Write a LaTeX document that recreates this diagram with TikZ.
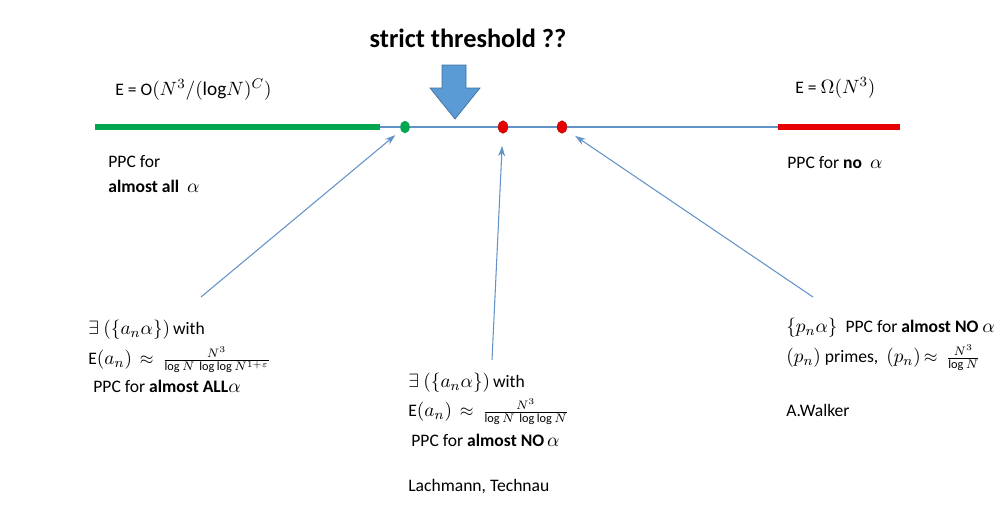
\documentclass[tikz,border=0pt]{standalone}
\usepackage{fontspec}
\setmainfont{Carlito}
\usepackage{tikz}
\usetikzlibrary{positioning, arrows.meta, shapes.geometric}

\definecolor{lineblue}{RGB}{98,146,199}
\definecolor{arrowblue}{RGB}{91,155,213}
\definecolor{arrowedge}{RGB}{65,113,156}
\definecolor{lgreen}{RGB}{0,166,80}
\definecolor{lred}{RGB}{230,0,0}

% slightly larger math, as in the slide
\newcommand{\mm}[1]{{\fontsize{11}{13}\selectfont$#1$}}

\begin{document}
\begin{tikzpicture}[x=0.02cm, y=-0.02cm]

			% Styles
			\tikzset{
				txt/.style={anchor=west, inner sep=0pt, font=\fontsize{10}{12}\selectfont},
				title/.style={inner sep=0pt, font=\fontsize{15}{17}\selectfont\bfseries},
				dot/.style={ellipse, minimum width=0.19cm, minimum height=0.25cm, inner sep=0pt},
				pointer/.style={draw=lineblue, line width=0.6pt, -{Stealth[length=6pt, width=4pt]}}
			}

			\useasboundingbox (0,0) rectangle (999,522);

			% Axis
			\draw[lineblue, line width=1.6pt] (380,127) -- (778,127);
			\draw[lgreen, line width=3pt] (95,127) -- (380,127);
			\draw[lred, line width=3pt] (778,127) -- (900,127);

			% Points on the axis
			\node (gdot) [dot, fill=lgreen] at (405,127) {};
			\node (rdot1) [dot, fill=lred, draw=lred!80!black, line width=0.3pt] at (503,127) {};
			\node (rdot2) [dot, fill=lred, draw=lred!80!black, line width=0.3pt] at (562,127) {};

			% Threshold arrow
			\node (thresh) [title] at (468,38) {strict threshold ??};
			\filldraw[fill=arrowblue, draw=arrowedge, line width=0.4pt]
				(442,65) -- (466,65) -- (466,88) -- (480,88) -- (455,119) -- (430,88) -- (442,88) -- cycle;

			% Labels above / below the axis
			\node (bigO) [txt] at (115,90) {E = O\mm{(N^3/(\mathrm{log}N)^C)}};
			\node (omega) [txt] at (795,88) {E = \mm{\Omega(N^3)}};
			\node (ppcl) [txt] at (108,162) {PPC for};
			\node (alll) [txt] at (108,186) {\textbf{almost all}\ \ \mm{\alpha}};
			\node (ppcr) [txt] at (787,163) {PPC for \textbf{no}\ \ \mm{\alpha}};

			% Left result
			\node (lwith) [txt] at (88,330) {\mm{\exists\ (\{a_n\alpha\})}\,with};
			\node (lrate) [txt] at (88,360) {E\mm{(a_n)}\ \ $\approx\ \frac{N^3}{\log N\,\log\log N^{1+\varepsilon}}$};
			\node (lppc) [txt] at (93,386) {PPC for \textbf{almost ALL}\mm{\alpha}};

			% Middle result
			\node (mwith) [txt] at (408,383) {\mm{\exists\ (\{a_n\alpha\})}\,with};
			\node (mrate) [txt] at (408,412) {E\mm{(a_n)}\ \ $\approx\ \frac{N^3}{\log N\,\log\log N}$};
			\node (mppc) [txt] at (411,440) {PPC for \textbf{almost NO}\,\mm{\alpha}};
			\node (mref) [txt] at (408,487) {Lachmann, Technau};

			% Right result
			\node (rppc) [txt] at (786,328) {\mm{\{p_n\alpha\}}\ \ PPC\ for \textbf{almost NO}\ \mm{\alpha}};
			\node (rrate) [txt] at (786,358) {\mm{(p_n)} primes,\ \ \mm{(p_n)}\,$\approx\ \frac{N^3}{\log N}$};
			\node (rref) [txt] at (786,410) {A.Walker};

			% Pointers to the axis
			\coordinate (lfoot) at (201,297);
			\coordinate (mfoot) at (492,360);
			\coordinate (rfoot) at (813,297);
			\draw[pointer, shorten >=4pt] (lfoot) -- (gdot);
			\draw[pointer, shorten >=7pt] (mfoot) -- (rdot1);
			\draw[pointer, shorten >=6pt] (rfoot) -- (rdot2);

\end{tikzpicture}
\end{document}
